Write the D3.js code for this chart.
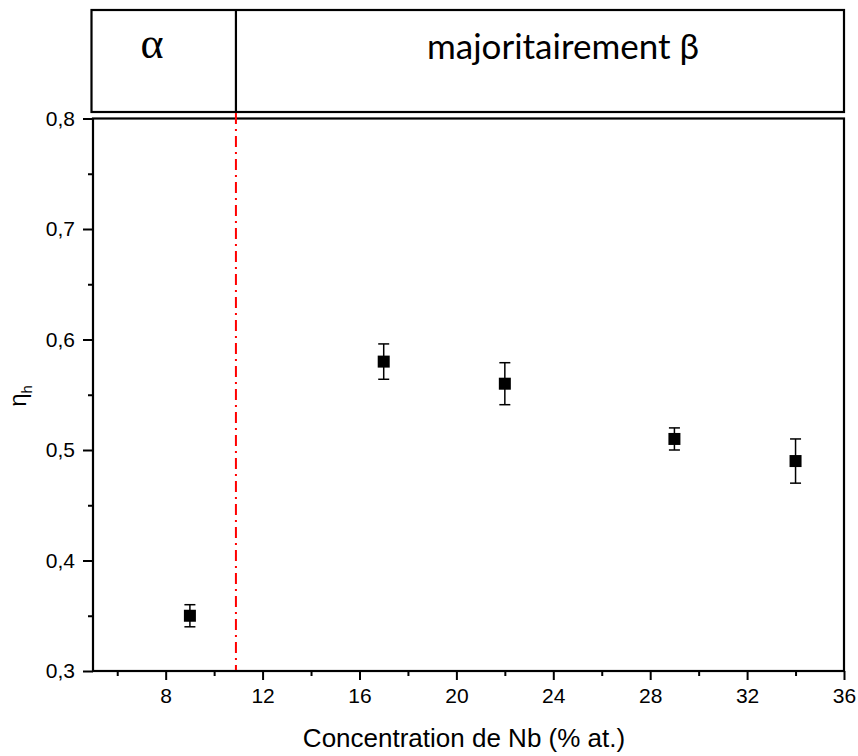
<!DOCTYPE html>
<html>
<head>
<meta charset="utf-8">
<script src="https://cdn.jsdelivr.net/npm/d3@7"></script>
<style>
  html, body { margin: 0; padding: 0; background: #fff; }
  svg { display: block; }
</style>
</head>
<body>
<script>
// ---- Data ----
const concentration = [9, 17, 22, 29, 34];          // Nb (% at.)
const etaH = [0.35, 0.58, 0.56, 0.51, 0.49];        // η_h
const etaErr = [0.010, 0.016, 0.019, 0.010, 0.020]; // error bars
const xMajorTicks = [8, 12, 16, 20, 24, 28, 32, 36];
const xMinorTicks = [6, 10, 14, 18, 22, 26, 30, 34];
const yMajorTicks = [0.3, 0.4, 0.5, 0.6, 0.7, 0.8];
const yMinorTicks = [0.35, 0.45, 0.55, 0.65, 0.75];
const phaseBoundary = 10.9;
const phaseLabels = ["α", "majoritairement β"];
const xTitle = "Concentration de Nb (% at.)";

// ---- Layout ----
const W = 858, H = 756;
const svg = d3.select("body").append("svg").attr("width", W).attr("height", H);

const x = d3.scaleLinear().domain([5, 36]).range([93, 844]);
const y = d3.scaleLinear().domain([0.3, 0.8]).range([671, 118.5]);

const tickFont = "'Liberation Sans', Arial, sans-serif";
const fmt = d => d3.format(".1f")(d).replace(".", ",");

// X axis minor
svg.append("g").attr("transform", `translate(0,${y(0.3)})`)
  .call(d3.axisBottom(x).tickValues(xMinorTicks).tickSize(5).tickSizeOuter(0).tickFormat(""))
  .call(g => g.select(".domain").remove())
  .call(g => g.selectAll("line").attr("stroke-width", 2));
// X axis major
svg.append("g").attr("transform", `translate(0,${y(0.3)})`)
  .call(d3.axisBottom(x).tickValues(xMajorTicks).tickSize(9).tickSizeOuter(0).tickPadding(8).tickFormat(d3.format("d")))
  .call(g => g.select(".domain").remove())
  .call(g => g.selectAll("line").attr("stroke-width", 2))
  .call(g => g.selectAll("text").attr("font-family", tickFont).attr("font-size", 21).attr("fill", "#000"));

// Y axis minor
svg.append("g").attr("transform", `translate(${x(5)},0)`)
  .call(d3.axisLeft(y).tickValues(yMinorTicks).tickSize(5).tickSizeOuter(0).tickFormat(""))
  .call(g => g.select(".domain").remove())
  .call(g => g.selectAll("line").attr("stroke-width", 2));
// Y axis major
svg.append("g").attr("transform", `translate(${x(5)},0)`)
  .call(d3.axisLeft(y).tickValues(yMajorTicks).tickSize(10).tickSizeOuter(0).tickPadding(8).tickFormat(fmt))
  .call(g => g.select(".domain").remove())
  .call(g => g.selectAll("line").attr("stroke-width", 2))
  .call(g => g.selectAll("text").attr("font-family", tickFont).attr("font-size", 21).attr("fill", "#000"));

// Plot frame
svg.append("rect")
  .attr("x", x(5)).attr("y", y(0.8))
  .attr("width", x(36) - x(5)).attr("height", y(0.3) - y(0.8))
  .attr("fill", "none").attr("stroke", "#000").attr("stroke-width", 2.2);

// Phase box on top
const boxTop = 10, boxBottom = 112;
svg.append("rect")
  .attr("x", x(5) - 1.5).attr("y", boxTop)
  .attr("width", x(36) - x(5) + 1.5).attr("height", boxBottom - boxTop)
  .attr("fill", "none").attr("stroke", "#000").attr("stroke-width", 2.2);
svg.append("line")
  .attr("x1", x(phaseBoundary)).attr("x2", x(phaseBoundary))
  .attr("y1", boxTop).attr("y2", boxBottom)
  .attr("stroke", "#000").attr("stroke-width", 2.2);

svg.append("text")
  .attr("x", 152).attr("y", 58)
  .attr("text-anchor", "middle")
  .attr("font-family", "'Liberation Serif', 'Times New Roman', serif")
  .attr("font-size", 44)
  .text(phaseLabels[0]);
svg.append("text")
  .attr("x", 563).attr("y", 59)
  .attr("text-anchor", "middle")
  .attr("font-family", "Lato, 'Open Sans', sans-serif")
  .attr("font-size", 35)
  .text(phaseLabels[1]);

// Red dash-dot boundary line
svg.append("line")
  .attr("x1", x(phaseBoundary)).attr("x2", x(phaseBoundary))
  .attr("y1", boxBottom + 1).attr("y2", y(0.3) - 1)
  .attr("stroke", "#ff0000").attr("stroke-width", 2)
  .attr("stroke-dasharray", "11,5,2,5");

// Error bars
const capW = 11;
const eb = svg.append("g").attr("stroke", "#000").attr("stroke-width", 1.5);
concentration.forEach((c, i) => {
  const cx = x(c);
  const yt = y(etaH[i] + etaErr[i]), yb = y(etaH[i] - etaErr[i]);
  eb.append("line").attr("x1", cx).attr("x2", cx).attr("y1", yt).attr("y2", yb);
  eb.append("line").attr("x1", cx - capW / 2).attr("x2", cx + capW / 2).attr("y1", yt).attr("y2", yt);
  eb.append("line").attr("x1", cx - capW / 2).attr("x2", cx + capW / 2).attr("y1", yb).attr("y2", yb);
});

// Markers
const ms = 12;
svg.append("g").selectAll("rect")
  .data(concentration.map((c, i) => ({ c, v: etaH[i] })))
  .join("rect")
  .attr("x", d => x(d.c) - ms / 2)
  .attr("y", d => y(d.v) - ms / 2)
  .attr("width", ms).attr("height", ms)
  .attr("fill", "#000");

// Axis titles
svg.append("text")
  .attr("x", 464).attr("y", 747)
  .attr("text-anchor", "middle")
  .attr("font-family", tickFont)
  .attr("font-size", 26)
  .text(xTitle);

const yl = svg.append("text")
  .attr("transform", "translate(26,396) rotate(-90)")
  .attr("text-anchor", "middle")
  .attr("font-family", tickFont)
  .attr("font-size", 24);
yl.append("tspan").text("η");
yl.append("tspan").attr("font-size", 15).attr("dy", 6).text("h");
</script>
</body>
</html>
